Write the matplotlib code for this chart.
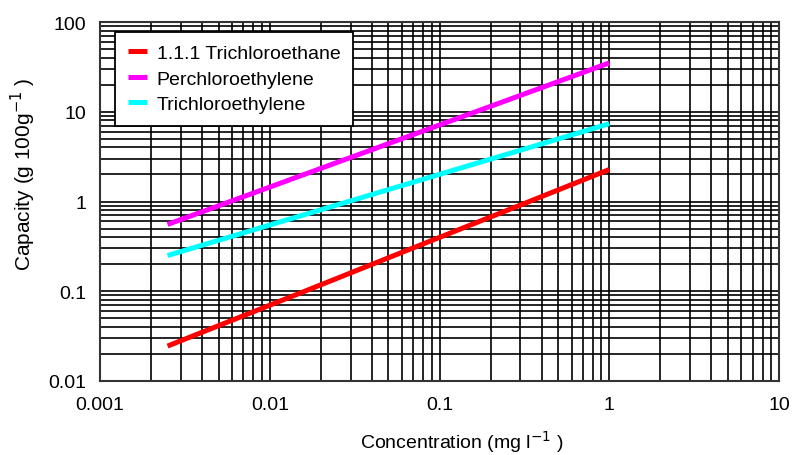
import matplotlib
matplotlib.use('Agg')
import matplotlib.pyplot as plt
from matplotlib.ticker import LogLocator, FixedLocator, FixedFormatter, NullFormatter

plt.rcParams['font.family'] = ['Liberation Sans', 'DejaVu Sans']

# concentration endpoints (mg/l) and capacity (g/100g)
conc = [0.0025, 1.0]
tca = [0.0245, 2.27]
perc = [0.555, 35.0]
tce = [0.25, 7.36]

names = ['1.1.1 Trichloroethane', 'Perchloroethylene', 'Trichloroethylene']
colors = ['#ff0000', '#ff00ff', '#00ffff']

xticks = [0.001, 0.01, 0.1, 1, 10]
xlabels = ['0.001', '0.01', '0.1', '1', '10']
yticks = [0.01, 0.1, 1, 10, 100]
ylabels = ['0.01', '0.1', '1', '10', '100']

fig = plt.figure(figsize=(7.93, 4.56), dpi=100)
ax = fig.add_axes([100 / 793, 1 - 382 / 456, 679 / 793, 359 / 456])

for y, name, c in zip([tca, perc, tce], names, colors):
    ax.plot(conc, y, color=c, lw=3.6, label=name, solid_capstyle='butt')

ax.set_xscale('log')
ax.set_yscale('log')
ax.set_xlim(0.001, 10)
ax.set_ylim(0.01, 100)

ax.xaxis.set_major_locator(FixedLocator(xticks))
ax.xaxis.set_major_formatter(FixedFormatter(xlabels))
ax.yaxis.set_major_locator(FixedLocator(yticks))
ax.yaxis.set_major_formatter(FixedFormatter(ylabels))
for a in (ax.xaxis, ax.yaxis):
    a.set_minor_locator(LogLocator(base=10, subs=range(2, 10), numticks=20))
    a.set_minor_formatter(NullFormatter())

ax.grid(True, which='both', color='black', lw=1.2)
ax.set_axisbelow(True)
ax.tick_params(which='both', length=0, labelsize=14)
ax.tick_params(axis='x', pad=11)
ax.tick_params(axis='y', pad=10)
for s in ax.spines.values():
    s.set_linewidth(1.5)
    s.set_color('#333333')

ax.set_xlabel('Concentration (mg l$^{-1}$ )', fontsize=14)
ax.xaxis.set_label_coords(0.533, -0.13)
ax.set_ylabel('Capacity (g 100g$^{-1}$ )', fontsize=15)
ax.yaxis.set_label_coords(-0.092, 0.579)

leg = ax.legend(loc='upper left', bbox_to_anchor=(15 / 679, 1 - 10 / 359),
                prop={'size': 14}, frameon=True, fancybox=False, framealpha=1,
                edgecolor='black', handlelength=1.0, handletextpad=0.5,
                borderpad=0.65, labelspacing=0.4, borderaxespad=0)
leg.get_frame().set_linewidth(1.3)

fig.savefig('out.png', dpi=100)
